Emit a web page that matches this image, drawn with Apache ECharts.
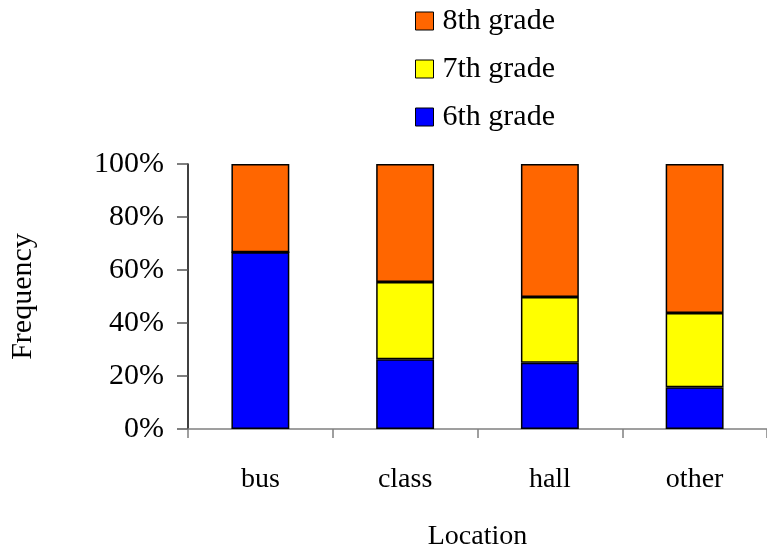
<!DOCTYPE html>
<html>
<head>
<meta charset="utf-8">
<script src="https://cdn.jsdelivr.net/npm/echarts@6/dist/echarts.min.js"></script>
<style>
  html, body { margin: 0; padding: 0; background: #fff; overflow: hidden; }
  #chart { width: 767px; height: 552px; }
</style>
</head>
<body>
<div id="chart"></div>
<script>
// Share of each grade by location (percent of the location's total)
const locations = ['bus', 'class', 'hall', 'other'];
const grade6 = [66.7, 26.3, 25.0, 15.8];
const grade7 = [0, 29.2, 24.8, 28.0];
const grade8 = [33.3, 44.5, 50.2, 56.2];
const yTicks = [0, 20, 40, 60, 80, 100];

const FONT = '"Liberation Serif", "Times New Roman", serif';
const chart = echarts.init(document.getElementById('chart'));

function barSeries(name, data, color) {
  return {
    name: name,
    type: 'bar',
    stack: 'total',
    data: data,
    barWidth: '40%',
    itemStyle: { color: color, borderColor: '#000', borderWidth: 1.5 },
    emphasis: { disabled: true }
  };
}

chart.setOption({
  animation: false,
  backgroundColor: '#fff',
  textStyle: { fontFamily: FONT },
  legend: {
    orient: 'vertical',
    left: 410,
    top: 1,
    data: ['8th grade', '7th grade', '6th grade'],
    icon: 'rect',
    itemWidth: 18,
    itemHeight: 18,
    itemGap: 18,
    itemStyle: { borderColor: '#000', borderWidth: 1 },
    textStyle: { fontFamily: FONT, fontSize: 30, color: '#000', lineHeight: 30, padding: [0, 0, 0, 4] },
    selectedMode: false
  },
  grid: { left: 187, top: 164, height: 267, width: 585, containLabel: false },
  xAxis: {
    type: 'category',
    data: locations,
    name: 'Location',
    nameLocation: 'middle',
    nameGap: 94,
    nameTextStyle: { fontFamily: FONT, fontSize: 28, color: '#000' },
    axisLine: { lineStyle: { color: '#808080', width: 1.5 } },
    axisTick: { show: true, length: 9, lineStyle: { color: '#808080', width: 1.5 } },
    axisLabel: { fontFamily: FONT, fontSize: 28, color: '#000', margin: 37 }
  },
  yAxis: {
    type: 'value',
    min: yTicks[0],
    max: yTicks[yTicks.length - 1],
    interval: yTicks[1] - yTicks[0],
    name: 'Frequency',
    nameLocation: 'middle',
    nameRotate: 90,
    nameGap: 150,
    nameTextStyle: { fontFamily: FONT, fontSize: 30, color: '#000' },
    splitLine: { show: false },
    axisLine: { show: true, lineStyle: { color: '#000', width: 1.5 } },
    axisTick: { show: true, length: 11, lineStyle: { color: '#555', width: 1.5 } },
    axisLabel: { fontFamily: FONT, fontSize: 30, color: '#000', margin: 24, formatter: '{value}%' }
  },
  series: [
    barSeries('6th grade', grade6, '#0000ff'),
    barSeries('7th grade', grade7, '#ffff00'),
    barSeries('8th grade', grade8, '#ff6600')
  ]
});
</script>
</body>
</html>
